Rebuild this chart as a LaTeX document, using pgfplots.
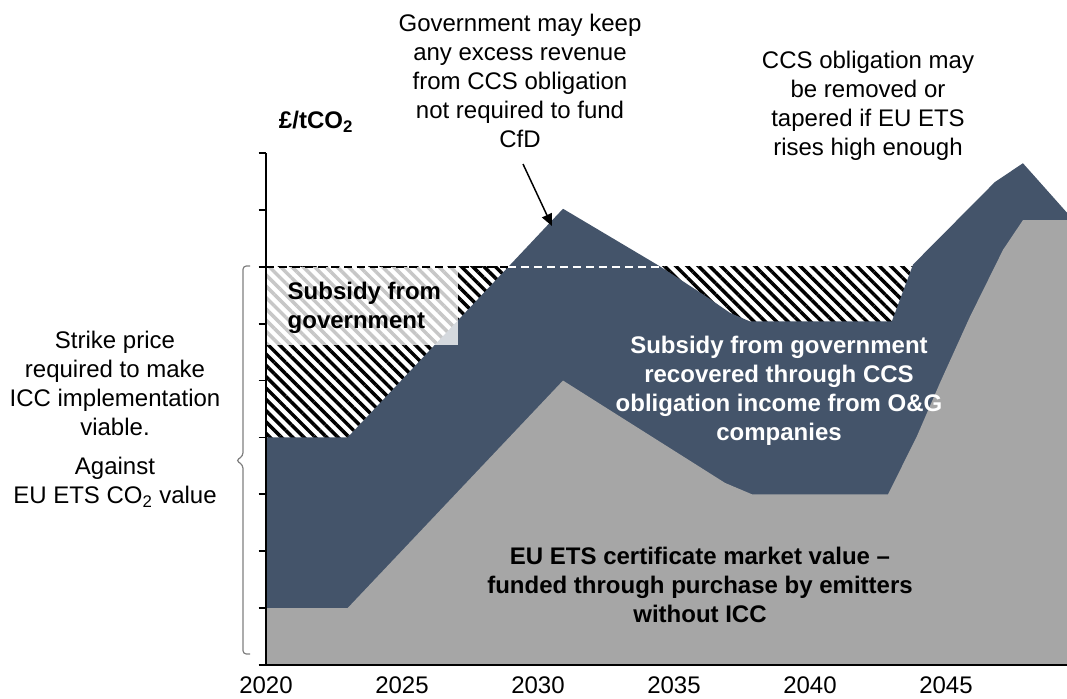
\documentclass[border=0pt]{standalone}
\usepackage{pgfplots}
\pgfplotsset{compat=1.18}
\usepackage{fontspec}
\setmainfont{Liberation Sans}
\usetikzlibrary{patterns.meta,arrows.meta}

\definecolor{etsgrey}{HTML}{A6A6A6}
\definecolor{ccsblue}{HTML}{44546A}
\definecolor{bracegrey}{HTML}{7F7F7F}
\newcommand\fs{\fontsize{18}{21.75}\selectfont}

% total cost per tonne (top of the blue area)
\pgfplotstableread{
year  v
2020    4.00
2023    4.00
2030.92 8.02
2034.37 7.04
2034.96 6.86
2036.21 6.47
2037.06 6.19
2037.79 6.04
2043.01 6.04
2043.79 7.04
2046.80 8.49
2047.83 8.82
2049.45 7.95
}\strike

% EU ETS certificate value (top of the grey area)
\pgfplotstableread{
year  v
2020    1.00
2023    1.00
2030.92 5.00
2036.88 3.20
2037.87 3.00
2042.87 3.00
2043.93 4.02
2044.78 4.96
2045.88 6.12
2047.10 7.30
2047.83 7.82
2049.45 7.82
}\ets

\begin{document}
\begin{tikzpicture}
\useasboundingbox (0,0) rectangle (800.25pt,-524.25pt);
\begin{axis}[
    at={(199.5pt,-498.75pt)}, anchor=south west,
    scale only axis, width=600.75pt, height=384pt,
    xmin=2020, xmax=2049.45, ymin=0, ymax=9,
    axis x line=bottom, axis y line=left,
    axis line style={-, line width=1.6pt},
    axis on top,
    xtick=\empty,
    extra x ticks={2020,2025,2030,2035,2040,2045},
    extra x tick style={tick style={draw=none}},
    ytick={0,...,9}, yticklabels={},
    tick align=outside, major tick length=5.5pt,
    tick style={black, line width=1.3pt},
    /pgf/number format/1000 sep={},
    /pgf/number format/assume math mode=true,
    xticklabel style={font=\fs, inner sep=1pt, yshift=-2pt},
    clip=false,
]
% subsidy band up to the strike price, hatched
\addplot[draw=none, pattern={Lines[angle=-45, distance=6pt, line width=2.6pt]}, pattern color=black]
    coordinates {(2020,7) (2049.45,7)} \closedcycle;
\addplot[draw=none, fill=ccsblue] table[x=year, y=v] {\strike} \closedcycle;
\addplot[draw=none, fill=etsgrey] table[x=year, y=v] {\ets} \closedcycle;
% text box over the hatch
\fill[white, opacity=0.78] (axis cs:2020,7) rectangle (axis cs:2027.06,5.63);
% strike price line
\addplot[black, line width=1.5pt, dash pattern=on 6pt off 3.75pt] coordinates {(2020,7) (2028.91,7)};
\addplot[white, line width=1.5pt, dash pattern=on 6pt off 3.75pt] coordinates {(2028.91,7) (2034.5,7)};
\end{axis}

\begin{scope}[x=0.75pt, y=-0.75pt]
\node[font=\fs\bfseries] at (316,122) {£/tCO\textsubscript{2}};
\node[font=\fs, align=center] at (520,81) {Government may keep\\any excess revenue\\from CCS obligation\\not required to fund\\CfD};
\draw[line width=1.1pt, -{Triangle[length=9pt, width=8pt]}] (523,164) -- (552,226);
\node[font=\fs, align=center] at (868,105.5) {CCS obligation may\\be removed or\\tapered if EU ETS\\rises high enough};
\node[font=\fs\bfseries, align=left, anchor=west] at (283,307.5) {Subsidy from\\government};
\node[font=\fs\bfseries, align=center, text=white] at (779,390.5) {Subsidy from government\\recovered through CCS\\obligation income from O\&G\\companies};
\node[font=\fs\bfseries, align=center] at (700,585) {EU ETS certificate market value --\\funded through purchase by emitters\\without ICC};
\node[font=\fs, align=center] at (115,383.5) {Strike price\\required to make\\ICC implementation\\viable.};
\node[font=\fs, align=center] at (115,482) {Against\\EU ETS CO\textsubscript{2} value};
\draw[bracegrey, line width=0.9pt, rounded corners=2.5pt]
    (250,266) -- (243,266) -- (243,456) -- (236,460.5) -- (243,465) -- (243,654) -- (250,654);
\end{scope}
\end{tikzpicture}
\end{document}
